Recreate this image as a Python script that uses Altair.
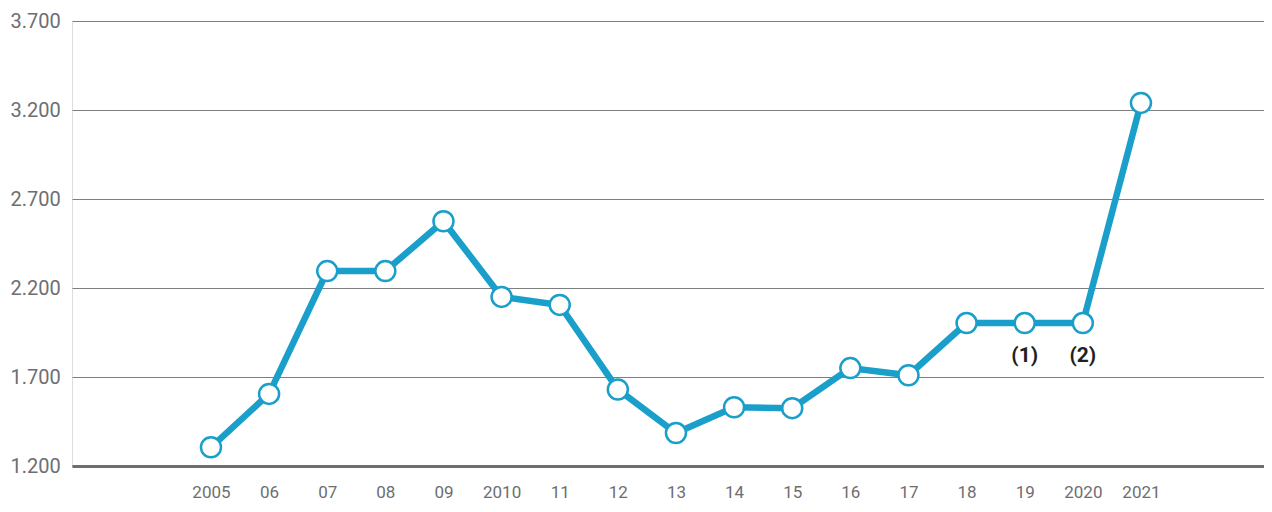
import altair as alt
import pandas as pd

years = [2005, 2006, 2007, 2008, 2009, 2010, 2011, 2012, 2013, 2014, 2015,
         2016, 2017, 2018, 2019, 2020, 2021]
values = [1305, 1605, 2295, 2295, 2575, 2150, 2105, 1630, 1385, 1530, 1525,
          1750, 1710, 2003, 2003, 2003, 3240]
note_years = [2019, 2020]
note_values = [2003, 2003]
note_texts = ["(1)", "(2)"]
y_ticks = [1200, 1700, 2200, 2700, 3200, 3700]

BLUE = "#1a9fcb"
GRAY = "#6d6e71"
FONT = "Roboto, Liberation Sans, sans-serif"

df = pd.DataFrame({"year": years, "value": values})
notes = pd.DataFrame({"year": note_years, "value": note_values, "label": note_texts})

x = alt.X(
    "year:Q",
    scale=alt.Scale(domain=[2002.609, 2023.117], nice=False, zero=False),
    axis=alt.Axis(
        values=years,
        labelExpr="(datum.value == 2005 || datum.value == 2010 || datum.value == 2020 || datum.value == 2021) ? '' + datum.value : slice('' + datum.value, 2)",
        grid=False,
        ticks=False,
        tickSize=0,
        domain=True,
        domainColor="#6d6e71",
        domainWidth=3,
        labelPadding=31,
        labelBaseline="alphabetic",
        labelFont=FONT,
        labelFontSize=17,
        labelColor=GRAY,
        title=None,
    ),
)
y = alt.Y(
    "value:Q",
    scale=alt.Scale(domain=[1200, 3700], nice=False, zero=False),
    axis=alt.Axis(
        values=y_ticks,
        labelExpr="replace(format(datum.value, ','), ',', '.')",
        grid=True,
        gridColor="#7d7e80",
        gridWidth=1,
        ticks=False,
        tickSize=0,
        domain=False,
        labelAlign="left",
        labelBaseline="middle",
        labelPadding=62,
        labelFont=FONT,
        labelFontSize=20,
        labelColor=GRAY,
        title=None,
    ),
)

line = alt.Chart(df).mark_line(color=BLUE, strokeWidth=6.5).encode(x=x, y=y)
pts = alt.Chart(df).mark_point(
    filled=True, fill="white", stroke=BLUE, strokeWidth=2.5, size=400, opacity=1
).encode(x=x, y=y)
txt = alt.Chart(notes).mark_text(
    dy=33, baseline="middle", align="center", font=FONT, fontSize=21,
    fontWeight="bold", color="#231f20"
).encode(x=alt.X("year:Q"), y=alt.Y("value:Q"), text="label:N")

chart = alt.layer(line, pts, txt).properties(
    width=1192, height=445,
    autosize=alt.AutoSizeParams(type="none"),
    padding={"left": 64, "top": 13, "right": 0, "bottom": 38},
).configure_view(stroke=None).configure(background="white")

chart.save("out.html", embed_options={"renderer": "svg", "actions": False})
